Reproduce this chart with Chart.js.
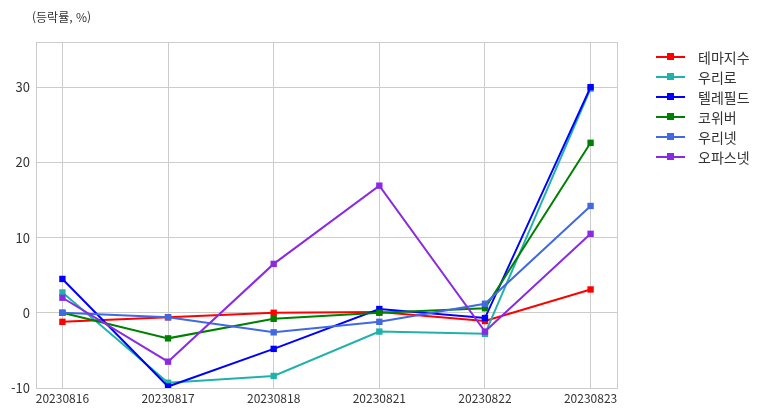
<!DOCTYPE html>
<html lang="ko">
<head>
<meta charset="utf-8">
<script src="https://cdn.jsdelivr.net/npm/chart.js@4"></script>
<style>
  html, body { margin: 0; padding: 0; background: #fff; }
  #wrap { position: relative; width: 767px; height: 416px; }
  #unit { position: absolute; left: 32px; top: 8px; font: 12px "Noto Sans CJK KR", sans-serif; color: #333; }
  #legend { position: absolute; left: 656px; top: 47px; font: 14px "Noto Sans CJK KR", sans-serif; color: #333; }
  #legend div { height: 20px; line-height: 20px; display: flex; align-items: center; }
  #legend span.sw { position: relative; width: 29px; height: 2px; margin-right: 13px; }
  #legend span.sw i { position: absolute; left: 11px; top: -3px; width: 7px; height: 7px; }
</style>
</head>
<body>
<div id="wrap">
  <canvas id="chart" width="767" height="416"></canvas>
  <div id="unit">(등락률, %)</div>
  <div id="legend"></div>
</div>
<script>
// dates on the x axis
const dates = ['20230816', '20230817', '20230818', '20230821', '20230822', '20230823'];

// series names and colours (same order as legend)
const names = ['테마지수', '우리로', '텔레필드', '코위버', '우리넷', '오파스넷'];
const colors = ['#ff0000', '#20b2aa', '#0000ff', '#008000', '#4169e1', '#8a2be2'];

// daily change, %
const themeIdx  = [-1.2, -0.6, 0.0, 0.1, -1.1, 3.1];
const wooriro   = [2.7, -9.3, -8.4, -2.5, -2.8, 29.8];
const telefield = [4.5, -9.8, -4.8, 0.5, -0.7, 30.0];
const coweaver  = [0.0, -3.4, -0.8, 0.0, 0.6, 22.6];
const woorinet  = [0.0, -0.6, -2.6, -1.2, 1.2, 14.2];
const opasnet   = [2.0, -6.5, 6.5, 16.9, -2.5, 10.5];

const yTicks = [-10, 0, 10, 20, 30];

const series = [themeIdx, wooriro, telefield, coweaver, woorinet, opasnet];

const datasets = series.map((vals, i) => ({
  label: names[i],
  data: vals.map((v, j) => ({ x: j, y: v })),
  borderColor: colors[i],
  backgroundColor: colors[i],
  borderWidth: 2,
  pointStyle: 'rect',
  pointRadius: 4.5,
  pointHoverRadius: 4.5,
  pointBorderWidth: 0,
  tension: 0,
  // later series drawn on top
  order: series.length - i
}));

// legend as html, built from the same arrays
const legendEl = document.getElementById('legend');
names.forEach((n, i) => {
  const row = document.createElement('div');
  row.innerHTML = '<span class="sw" style="background:' + colors[i] + '"><i style="background:' + colors[i] + '"></i></span>' + n;
  legendEl.appendChild(row);
});

// box around plot area
const frame = {
  id: 'frame',
  afterDraw(chart) {
    const a = chart.chartArea, ctx = chart.ctx;
    ctx.save();
    ctx.strokeStyle = '#cccccc';
    ctx.lineWidth = 1;
    ctx.strokeRect(Math.round(a.left) + 0.5, Math.round(a.top) + 0.5, Math.round(a.right - a.left), Math.round(a.bottom - a.top));
    ctx.restore();
  }
};

new Chart(document.getElementById('chart'), {
  type: 'line',
  data: { datasets: datasets },
  options: {
    responsive: false,
    animation: false,
    events: [],
    layout: { padding: { top: 42, right: 150, left: 0, bottom: 0 } },
    plugins: { legend: { display: false }, tooltip: { enabled: false } },
    scales: {
      x: {
        type: 'linear',
        min: -0.25,
        max: 5.25,
        afterBuildTicks: (s) => { s.ticks = dates.map((d, i) => ({ value: i })); },
        afterFit: (s) => { s.height = 28; },
        ticks: {
          callback: (v) => dates[v],
          autoSkip: false,
          maxRotation: 0,
          padding: 3,
          color: '#333',
          font: { family: '"Noto Sans CJK KR", sans-serif', size: 12 }
        },
        grid: { color: '#cccccc', drawTicks: false },
        border: { color: '#cccccc' }
      },
      y: {
        min: -10,
        max: 36,
        afterBuildTicks: (s) => { s.ticks = yTicks.map(v => ({ value: v })); },
        afterFit: (s) => { s.width = 36; },
        ticks: {
          padding: 6,
          color: '#333',
          font: { family: '"Noto Sans CJK KR", sans-serif', size: 13 }
        },
        grid: { color: '#cccccc', drawTicks: false },
        border: { color: '#cccccc' }
      }
    }
  },
  plugins: [frame]
});
</script>
</body>
</html>
